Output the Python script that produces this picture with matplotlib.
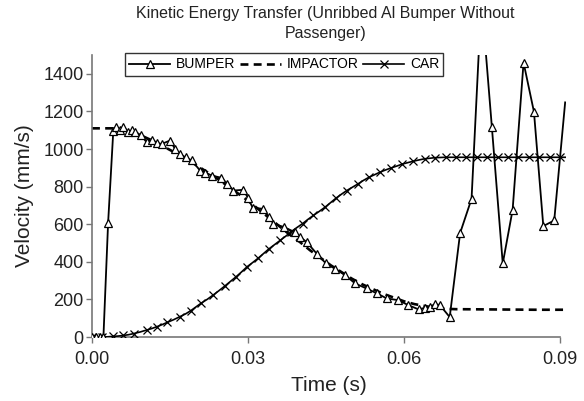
import matplotlib
matplotlib.use('Agg')
import matplotlib.pyplot as plt

plt.rcParams['font.family'] = ['Liberation Sans', 'DejaVu Sans']

# bumper velocity (mm/s) vs time (s)
bumper_t = [0, 0.0008, 0.0016, 0.0022, 0.0031, 0.0041, 0.0047, 0.0053, 0.0060, 0.0070,
            0.0077, 0.0083, 0.0094, 0.0105, 0.0116, 0.0126, 0.0134, 0.0150, 0.0160, 0.0169,
            0.0180, 0.0192, 0.0208, 0.0218, 0.0230, 0.0249, 0.0260, 0.0272, 0.0291, 0.0300,
            0.0309, 0.0328, 0.0340, 0.0349, 0.0369, 0.0390, 0.0401, 0.0413, 0.0432, 0.0450,
            0.0467, 0.0487, 0.0506, 0.0528, 0.0548, 0.0567, 0.0589, 0.0608, 0.0628, 0.0640,
            0.0650, 0.0660, 0.0669, 0.0688, 0.0708, 0.0730, 0.0749, 0.0769, 0.0790, 0.0809,
            0.0830, 0.0850, 0.0868, 0.0889, 0.0910]
bumper_v = [0, 0, 0, 0, 606, 1097, 1115, 1100, 1119, 1089,
            1100, 1089, 1075, 1036, 1050, 1030, 1027, 1045, 1000, 974,
            955, 939, 885, 875, 859, 847, 815, 779, 783, 740,
            688, 682, 640, 603, 585, 558, 530, 505, 444, 391,
            364, 329, 285, 258, 232, 205, 196, 170, 147, 155,
            161, 175, 170, 106, 553, 735, 1800, 1119, 391, 677,
            1460, 1198, 590, 620, 1248]

impactor_t = [0, 0.002, 0.004, 0.006, 0.008, 0.010, 0.012, 0.014, 0.016, 0.018,
              0.020, 0.022, 0.024, 0.026, 0.028, 0.030, 0.032, 0.034, 0.036, 0.038,
              0.040, 0.042, 0.044, 0.046, 0.048, 0.050, 0.052, 0.054, 0.056, 0.058,
              0.060, 0.062, 0.064, 0.066, 0.068, 0.070, 0.075, 0.080, 0.085, 0.091]
impactor_v = [1110, 1110, 1110, 1105, 1090, 1065, 1040, 1010, 980, 950,
              915, 880, 845, 805, 765, 725, 680, 635, 590, 545,
              505, 460, 420, 380, 345, 310, 280, 255, 230, 210,
              190, 175, 165, 155, 150, 148, 147, 146, 145, 145]

car_t = [0, 0.001, 0.002, 0.003, 0.004, 0.005, 0.006, 0.007, 0.008, 0.0093,
         0.0105, 0.0115, 0.0125, 0.0135, 0.0145, 0.0157, 0.0169, 0.018, 0.019, 0.020,
         0.021, 0.0222, 0.0233, 0.0244, 0.0255, 0.0266, 0.0277, 0.0288, 0.0298, 0.0309,
         0.032, 0.033, 0.034, 0.0351, 0.0362, 0.0373, 0.0383, 0.0394, 0.0405, 0.0415,
         0.0426, 0.0437, 0.0448, 0.0459, 0.047, 0.048, 0.049, 0.0501, 0.0512, 0.0522,
         0.0533, 0.0544, 0.0554, 0.0565, 0.0576, 0.0587, 0.0597, 0.0608, 0.0618, 0.0629,
         0.064, 0.065, 0.066, 0.067, 0.068, 0.069, 0.070, 0.071, 0.072, 0.073,
         0.074, 0.075, 0.076, 0.077, 0.078, 0.079, 0.080, 0.081, 0.082, 0.083,
         0.084, 0.085, 0.086, 0.087, 0.088, 0.089, 0.090, 0.091]
car_v = [0, 0, 0, 1, 3, 5, 8, 12, 18, 27,
         37, 45, 55, 66, 78, 92, 108, 123, 140, 160,
         180, 201, 223, 246, 270, 295, 320, 347, 373, 396,
         420, 444, 468, 491, 514, 537, 560, 582, 603, 625,
         647, 668, 690, 715, 740, 760, 779, 797, 815, 833,
         850, 864, 877, 889, 900, 910, 920, 928, 935, 942,
         948, 951, 954, 955, 956, 956, 956, 956, 956, 956,
         956, 956, 956, 956, 956, 956, 956, 956, 956, 956,
         956, 956, 956, 956, 956, 956, 956, 956]

fig = plt.figure(figsize=(5.84, 4.01), dpi=100)
ax = fig.add_axes([0.1575, 0.1596, 0.812, 0.7032])

ax.plot(impactor_t, impactor_v, color='black', lw=1.9, ls=(0, (3, 2)),
        label='IMPACTOR', zorder=2)
ax.plot(car_t, car_v, color='black', lw=1.2, marker='x', ms=5.5, mew=0.9,
        markevery=2, label='CAR', zorder=3)
skip = [bumper_t.index(0.0749), len(bumper_t) - 1]
ax.plot(bumper_t, bumper_v, color='black', lw=1.3, marker='^', ms=5.5,
        mfc='white', mec='black', mew=0.9,
        markevery=[i for i in range(len(bumper_t)) if i not in skip],
        label='BUMPER', zorder=4)

ax.set_xlim(0, 0.0912)
ax.set_ylim(0, 1500)
ax.set_xticks([0.0, 0.03, 0.06, 0.09])
ax.set_xticklabels(['0.00', '0.03', '0.06', '0.09'])
ax.set_yticks(range(0, 1401, 200))

for s in ['top', 'right']:
    ax.spines[s].set_visible(False)
for s in ['left', 'bottom']:
    ax.spines[s].set_color('#777777')
    ax.spines[s].set_linewidth(1.2)
ax.spines['bottom'].set_bounds(0, 0.09)
ax.tick_params(direction='out', length=4, width=1, color='#777777',
               labelsize=13, labelcolor='#222222', pad=2)
ax.tick_params(axis='x', pad=6)

ax.set_xlabel('Time (s)', fontsize=15, color='#222222', labelpad=6)
ax.set_ylabel('Velocity (mm/s)', fontsize=15, color='#222222', labelpad=7)

fig.text(0.557, 0.985, 'Kinetic Energy Transfer (Unribbed Al Bumper Without\nPassenger)',
         ha='center', va='top', fontsize=11.5, color='#222222', linespacing=1.4)

h, l = ax.get_legend_handles_labels()
order = [2, 0, 1]
leg = ax.legend([h[i] for i in order], [l[i] for i in order], ncol=3,
                loc='center', bbox_to_anchor=(284 / 584, 1 - 64.5 / 401),
                bbox_transform=fig.transFigure, fontsize=10, frameon=True,
                fancybox=False, edgecolor='black', handlelength=3.0,
                handletextpad=0.4, columnspacing=0.3, borderpad=0.3,
                borderaxespad=0, numpoints=1)
leg.get_frame().set_linewidth(1.0)

fig.savefig('out.png', dpi=100)
